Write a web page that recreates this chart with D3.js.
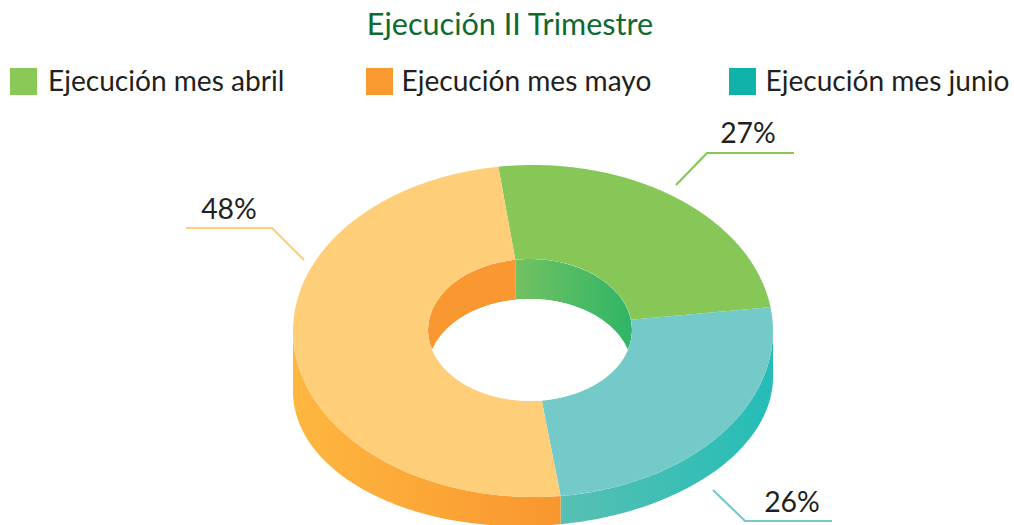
<!DOCTYPE html>
<html>
<head>
<meta charset="utf-8">
<script src="https://cdn.jsdelivr.net/npm/d3@7"></script>
<style>
  html, body { margin: 0; padding: 0; background: #fff; }
  text { font-family: Lato, "Open Sans", sans-serif; }
</style>
</head>
<body>
<script>
var titleText = "Ejecución II Trimestre";
var legendLabels = ["Ejecución mes abril", "Ejecución mes mayo", "Ejecución mes junio"];
var legendColors = ["#8AC858", "#F99A31", "#10B2A9"];

// months in clockwise order from the top of the ring
var months = ["abril", "junio", "mayo"];
var percentLabels = ["27%", "26%", "48%"];
// degrees swept by each slice as drawn; the ring is not strictly proportional to its labels
var sweepDegrees = [90, 91.7, 178.3];
var topColors = ["#86C757", "#74CAC8", "#FECF78"];
var leaderColors = ["#86C757", "#74CAC8", "#FECF78"];

var width = 1014, height = 525;

var svg = d3.select("body").append("svg")
    .attr("width", width)
    .attr("height", height)
    .style("display", "block");

var defs = svg.append("defs");

var outer = {cx: 533, cy: 331, rx: 240, ry: 166, skew: 0};
// lower rim of the wall is flatter and leans a bit, it is not just the top edge moved down
var rim = {cx: 533, cy: 384, rx: 240, ry: 142, skew: -0.03};
var hole = {cx: 530, cy: 330, rx: 102, ry: 71, skew: 0};
var holeFloor = {cx: 530, cy: 370, rx: 102, ry: 71, skew: 0};
var rad = Math.PI / 180;

var pie = d3.pie()
    .value(function(d) { return d; })
    .sort(null)
    .startAngle(-8.3 * rad)
    .endAngle((360 - 8.3) * rad);

var slices = pie(sweepDegrees);

// angle measured clockwise from north, same as d3.pie
function onEllipse(e, a) {
  var dx = e.rx * Math.sin(a);
  return [e.cx + dx, e.cy - e.ry * Math.cos(a) + e.skew * dx];
}

function arcPoints(e, a0, a1) {
  var n = Math.max(2, Math.ceil(Math.abs(a1 - a0) / (1 * rad)));
  return d3.range(n + 1).map(function(i) {
    return onEllipse(e, a0 + (a1 - a0) * i / n);
  });
}

var line = d3.line();

function gradient(id, x0, x1, c0, c1) {
  var g = defs.append("linearGradient")
      .attr("id", id)
      .attr("gradientUnits", "userSpaceOnUse")
      .attr("x1", x0).attr("x2", x1)
      .attr("y1", 0).attr("y2", 0);
  g.append("stop").attr("offset", 0).attr("stop-color", c0);
  g.append("stop").attr("offset", 1).attr("stop-color", c1);
}

// front walls, only the part of each slice that faces the viewer
gradient("wall-teal", outer.cx + 28, outer.cx + 240, "#58C0B2", "#24BDB7");
gradient("wall-yellow", outer.cx - 240, outer.cx + 28, "#FEB740", "#F9962F");

[1, 2].forEach(function(i) {
  var a0 = Math.max(slices[i].startAngle, 90 * rad);
  var a1 = Math.min(slices[i].endAngle, 270 * rad);
  var pts = arcPoints(outer, a0, a1).concat(arcPoints(rim, a1, a0));
  svg.append("path")
      .attr("d", line(pts) + "Z")
      .attr("fill", i == 1 ? "url(#wall-teal)" : "url(#wall-yellow)");
});

// top faces
slices.forEach(function(s, i) {
  var pts = arcPoints(outer, s.startAngle, s.endAngle)
      .concat(arcPoints(hole, s.endAngle, s.startAngle));
  svg.append("path")
      .attr("d", line(pts) + "Z")
      .attr("fill", topColors[i]);
});

// hole: back wall seen through the top opening, then the white see-through part
defs.append("clipPath").attr("id", "hole-clip")
  .append("ellipse")
    .attr("cx", hole.cx).attr("cy", hole.cy)
    .attr("rx", hole.rx).attr("ry", hole.ry);

gradient("inner-green", hole.cx - 14, hole.cx + 102, "#72C161", "#2FB566");

var holeGroup = svg.append("g").attr("clip-path", "url(#hole-clip)");
var split = slices[0].startAngle;
holeGroup.append("path")
    .attr("d", line(arcPoints(hole, split, split + 180 * rad).concat(arcPoints(holeFloor, split + 180 * rad, split))) + "Z")
    .attr("fill", "url(#inner-green)");
holeGroup.append("path")
    .attr("d", line(arcPoints(hole, split - 180 * rad, split).concat(arcPoints(holeFloor, split, split - 180 * rad))) + "Z")
    .attr("fill", "#F99831");
holeGroup.append("ellipse")
    .attr("cx", holeFloor.cx).attr("cy", holeFloor.cy)
    .attr("rx", holeFloor.rx).attr("ry", holeFloor.ry)
    .attr("fill", "#fff");

// title + legend
svg.append("text")
    .attr("x", 510).attr("y", 35)
    .attr("text-anchor", "middle")
    .attr("font-size", 30.6)
    .attr("fill", "#0F6A32")
    .text(titleText);

var swatchX = [10, 366, 729];
var labelX = [48, 401.5, 765.5];

legendLabels.forEach(function(label, i) {
  svg.append("rect")
      .attr("x", swatchX[i]).attr("y", 68)
      .attr("width", 27).attr("height", 27)
      .attr("fill", legendColors[i]);
  svg.append("text")
      .attr("x", labelX[i]).attr("y", 91)
      .attr("font-size", 28.1)
      .attr("fill", "#231F20")
      .text(label);
});

// leader lines and percent labels
var leaderPoints = [
  [[676, 185], [707, 153], [794, 153]],
  [[713, 490], [745, 521], [832, 521]],
  [[304, 260], [272, 228], [186, 228]]
];
var labelPoints = [[748, 143], [792, 512], [229, 219]];

percentLabels.forEach(function(label, i) {
  svg.append("path")
      .attr("d", line(leaderPoints[i]))
      .attr("fill", "none")
      .attr("stroke", leaderColors[i])
      .attr("stroke-width", 2.2);
  svg.append("text")
      .attr("x", labelPoints[i][0]).attr("y", labelPoints[i][1])
      .attr("text-anchor", "middle")
      .attr("font-size", 28.4)
      .attr("fill", "#231F20")
      .text(label);
});
</script>
</body>
</html>
